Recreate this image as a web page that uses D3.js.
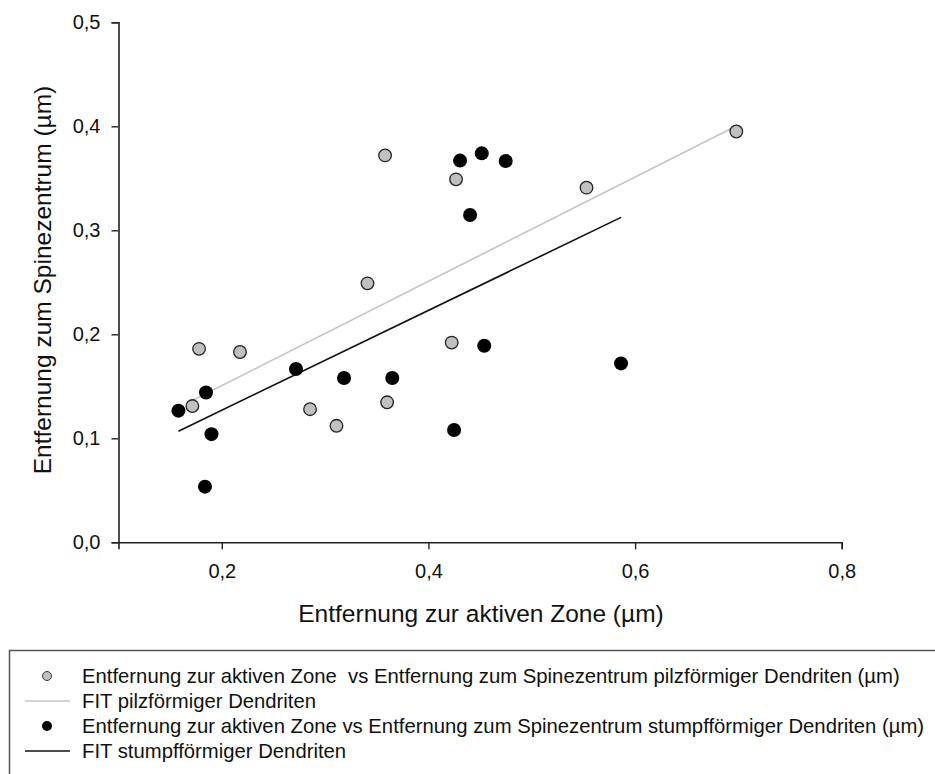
<!DOCTYPE html>
<html><head><meta charset="utf-8">
<script src="https://cdn.jsdelivr.net/npm/d3@7"></script>
<style>body{margin:0;background:#fff}svg{display:block}text{font-family:"Liberation Sans",Arial,sans-serif;fill:#111;white-space:pre}</style>
</head><body>
<script>
// Data
const pilzX = [0.698, 0.553, 0.358, 0.4267, 0.341, 0.178, 0.2176, 0.1715, 0.2854, 0.311, 0.360, 0.4225];
const pilzY = [0.395, 0.341, 0.372, 0.349, 0.249, 0.186, 0.183, 0.131, 0.128, 0.112, 0.1346, 0.192];
const stumpfX = [0.4306, 0.4516, 0.4748, 0.4403, 0.158, 0.1847, 0.190, 0.1837, 0.2718, 0.3183, 0.365, 0.454, 0.5864, 0.4248];
const stumpfY = [0.367, 0.374, 0.3666, 0.3147, 0.1266, 0.144, 0.104, 0.0535, 0.1666, 0.158, 0.158, 0.189, 0.172, 0.108];
const xTicks = [0.2, 0.4, 0.6, 0.8];
const yTicks = [0.0, 0.1, 0.2, 0.3, 0.4, 0.5];
const xTitle = "Entfernung zur aktiven Zone (µm)";
const yTitle = "Entfernung zum Spinezentrum (µm)";
const legendLabels = [
  "Entfernung zur aktiven Zone  vs Entfernung zum Spinezentrum pilzförmiger Dendriten (µm)",
  "FIT pilzförmiger Dendriten",
  "Entfernung zur aktiven Zone vs Entfernung zum Spinezentrum stumpfförmiger Dendriten (µm)",
  "FIT stumpfförmiger Dendriten"
];

const W = 935, H = 774;
const svg = d3.select("body").append("svg").attr("width", W).attr("height", H);
const x = d3.scaleLinear().domain([0.1, 0.8]).range([118.5, 841.7]);
const y = d3.scaleLinear().domain([0, 0.5]).range([542.3, 22.3]);
const fmt = d => d3.format(".1f")(d).replace(".", ",");

const gx = svg.append("g").attr("transform", `translate(0,${y(0)})`)
  .call(d3.axisBottom(x).tickValues(xTicks).tickFormat(fmt).tickSizeOuter(0).tickSize(7).tickPadding(15));
const gy = svg.append("g").attr("transform", `translate(${x(0.1)},0)`)
  .call(d3.axisLeft(y).tickValues(yTicks).tickFormat(fmt).tickSizeOuter(0).tickSize(7).tickPadding(11));
[gx, gy].forEach(g => {
  g.select(".domain").attr("stroke", "#222").attr("stroke-width", 1.6);
  g.selectAll(".tick line").attr("stroke", "#222").attr("stroke-width", 1.4);
  g.selectAll(".tick text").style("font-size", "20px").attr("fill", "#111").style("font-family", '"Liberation Sans",Arial,sans-serif');
});

svg.append("text").attr("x", 481).attr("y", 622).attr("text-anchor", "middle").style("font-size", "24.5px").text(xTitle);
svg.append("text").attr("transform", `translate(51,280) rotate(-90)`).attr("text-anchor", "middle").style("font-size", "24.5px").text(yTitle);

function fit(xs, ys) {
  const mx = d3.mean(xs), my = d3.mean(ys);
  const b = d3.sum(xs, (v, i) => (v - mx) * (ys[i] - my)) / d3.sum(xs, v => (v - mx) ** 2);
  const a = my - b * mx;
  const [x0, x1] = d3.extent(xs);
  return [[x0, a + b * x0], [x1, a + b * x1]];
}
const line = d3.line().x(d => x(d[0])).y(d => y(d[1]));

svg.append("path").attr("d", line(fit(pilzX, pilzY))).attr("stroke", "#c4c4c4").attr("stroke-width", 1.6).attr("fill", "none");
svg.append("path").attr("d", line(fit(stumpfX, stumpfY))).attr("stroke", "#111").attr("stroke-width", 1.6).attr("fill", "none");

svg.append("g").selectAll("circle").data(pilzX.map((v, i) => [v, pilzY[i]])).join("circle")
  .attr("cx", d => x(d[0])).attr("cy", d => y(d[1])).attr("r", 6.3)
  .attr("fill", "#c0c0c0").attr("stroke", "#222").attr("stroke-width", 1.3);
svg.append("g").selectAll("circle").data(stumpfX.map((v, i) => [v, stumpfY[i]])).join("circle")
  .attr("cx", d => x(d[0])).attr("cy", d => y(d[1])).attr("r", 7)
  .attr("fill", "#000");

// Legend
svg.append("rect").attr("x", 9.5).attr("y", 650.5).attr("width", 960).attr("height", 200)
  .attr("fill", "none").attr("stroke", "#555").attr("stroke-width", 1.5);
const rows = [676, 701, 726, 751];
const lg = svg.append("g");
lg.append("circle").attr("cx", 47).attr("cy", rows[0]).attr("r", 4.5).attr("fill", "#c0c0c0").attr("stroke", "#333").attr("stroke-width", 1);
lg.append("line").attr("x1", 25).attr("x2", 70).attr("y1", rows[1]).attr("y2", rows[1]).attr("stroke", "#c4c4c4").attr("stroke-width", 1.4);
lg.append("circle").attr("cx", 47).attr("cy", rows[2]).attr("r", 5).attr("fill", "#000");
lg.append("line").attr("x1", 25).attr("x2", 70).attr("y1", rows[3]).attr("y2", rows[3]).attr("stroke", "#111").attr("stroke-width", 1.4);
lg.selectAll("text").data(legendLabels).join("text")
  .attr("x", 82).attr("y", (d, i) => rows[i]).attr("dy", "0.35em").style("font-size", "20.3px").text(d => d);
</script>
</body></html>
